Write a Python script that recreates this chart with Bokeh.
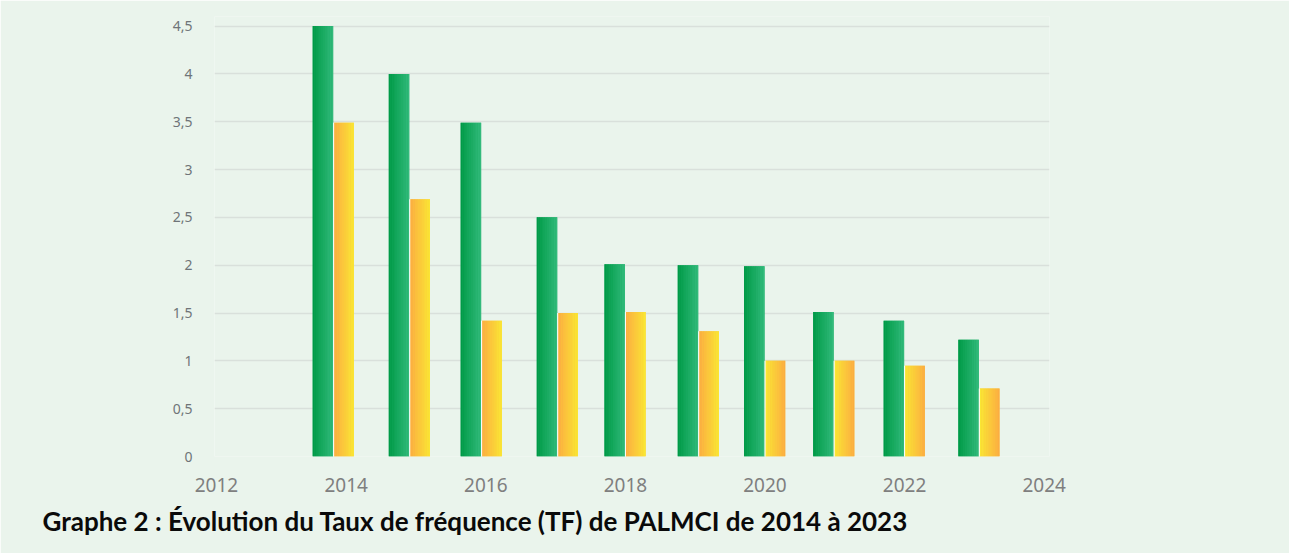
from bokeh.plotting import figure
from bokeh.models import Range1d, FixedTicker, Title, ColumnDataSource
from bokeh.embed import file_html
from bokeh.resources import INLINE

# ---------------- data ----------------
years = [2014, 2015, 2016, 2017, 2018, 2019, 2020, 2021, 2022, 2023]
bar_x = [2013.82, 2014.91, 2015.94, 2017.03, 2018.00, 2019.05, 2020.00, 2020.99, 2022.00, 2023.07]
tf_green = [4.5, 4.0, 3.49, 2.5, 2.01, 2.0, 1.99, 1.51, 1.42, 1.22]
tf_orange = [3.49, 2.69, 1.42, 1.5, 1.51, 1.31, 1.0, 1.0, 0.95, 0.71]
x_ticks = [2012.14, 2014, 2016, 2018, 2020, 2022, 2024]
x_tick_labels = ["2012", "2014", "2016", "2018", "2020", "2022", "2024"]
y_ticks = [0, 0.5, 1, 1.5, 2, 2.5, 3, 3.5, 4, 4.5]
y_tick_labels = ["0", "0,5", "1", "1,5", "2", "2,5", "3", "3,5", "4", "4,5"]
title_text = "Graphe 2 : Évolution du Taux de fréquence (TF) de PALMCI de 2014 à 2023"

# ---------------- style ----------------
BG = "#EAF4EC"
GREEN_L, GREEN_R = "#009A47", "#32BA7B"
ORANGE, YELLOW = "#FBAD42", "#FAE634"
orange_flip = [False, False, False, False, False, False, True, True, True, True]
BAR_W = 0.30
GAP = 0.007
N_STRIPS = 12


def hex2rgb(h):
    h = h.lstrip("#")
    return tuple(int(h[i:i + 2], 16) for i in (0, 2, 4))


def lerp(c1, c2, t):
    a, b = hex2rgb(c1), hex2rgb(c2)
    return "#%02x%02x%02x" % tuple(round(a[i] + (b[i] - a[i]) * t) for i in range(3))


p = figure(width=1289, height=553, output_backend="svg", toolbar_location=None,
           x_range=Range1d(2012.113, 2024.076), y_range=Range1d(0, 4.6),
           min_border_left=214, min_border_right=240, min_border_top=16, min_border_bottom=97)
p.background_fill_color = BG
p.border_fill_color = BG
p.outline_line_color = None

# gradient bars: a base bar plus non-overlapping colour strips
base = dict(left=[], right=[], top=[], color=[])
strips = dict(left=[], right=[], top=[], color=[])


def add_bar(left, right, top, c_left, c_right):
    w = right - left
    base["left"].append(left)
    base["right"].append(right)
    base["top"].append(top)
    base["color"].append(lerp(c_left, c_right, 0.5))
    for k in range(N_STRIPS):
        t = k / (N_STRIPS - 1)
        strips["left"].append(left + w * k / N_STRIPS)
        strips["right"].append(left + w * (k + 1) / N_STRIPS)
        strips["top"].append(top)
        strips["color"].append(lerp(c_left, c_right, t))


for xc, g, o, flip in zip(bar_x, tf_green, tf_orange, orange_flip):
    add_bar(xc - BAR_W, xc - GAP, g, GREEN_L, GREEN_R)
    if flip:
        add_bar(xc + GAP, xc + BAR_W - 0.01, o, YELLOW, ORANGE)
    else:
        add_bar(xc + GAP, xc + BAR_W - 0.01, o, ORANGE, YELLOW)

p.quad(left="left", right="right", bottom=0, top="top", fill_color="color",
       line_color=None, source=ColumnDataSource(base))
p.quad(left="left", right="right", bottom=0, top="top", fill_color="color",
       line_color=None, source=ColumnDataSource(strips))

# thin white separators between paired bars
sep_top = [min(g, o) for g, o in zip(tf_green, tf_orange)]
p.quad(left=[x - GAP for x in bar_x], right=[x + GAP for x in bar_x], bottom=0,
       top=sep_top, fill_color="white", line_color=None)

# grid
p.xgrid.grid_line_color = None
p.ygrid.grid_line_color = "#D9E0DB"
p.ygrid.grid_line_width = 1.6
p.ygrid.ticker = FixedTicker(ticks=y_ticks)
p.grid.level = "underlay"

# axes
p.xaxis.ticker = FixedTicker(ticks=x_ticks)
p.xaxis.major_label_overrides = {t: l for t, l in zip(x_ticks, x_tick_labels)}
p.yaxis.ticker = FixedTicker(ticks=y_ticks)
p.yaxis.major_label_overrides = {t: l for t, l in zip(y_ticks, y_tick_labels)}
for ax in (p.xaxis, p.yaxis):
    ax.axis_line_color = None
    ax.major_tick_line_color = None
    ax.minor_tick_line_color = None
    ax.major_tick_out = 0
    ax.major_tick_in = 0
    ax.major_label_text_font = "Noto Sans"
p.xaxis.major_label_text_font_size = "19px"
p.xaxis.major_label_text_color = "#7F7F7F"
p.xaxis.major_label_standoff = 21
p.yaxis.major_label_text_font_size = "14px"
p.yaxis.major_label_text_color = "#6F7478"
p.yaxis.major_label_standoff = 22

# caption below chart
p.add_layout(Title(text=title_text, align="left", offset=-172, standoff=16,
                   text_font="Lato", text_font_style="bold", text_font_size="26px",
                   text_color="#0A0A0A"), "below")

open("out.html", "w").write(file_html(p, INLINE))
